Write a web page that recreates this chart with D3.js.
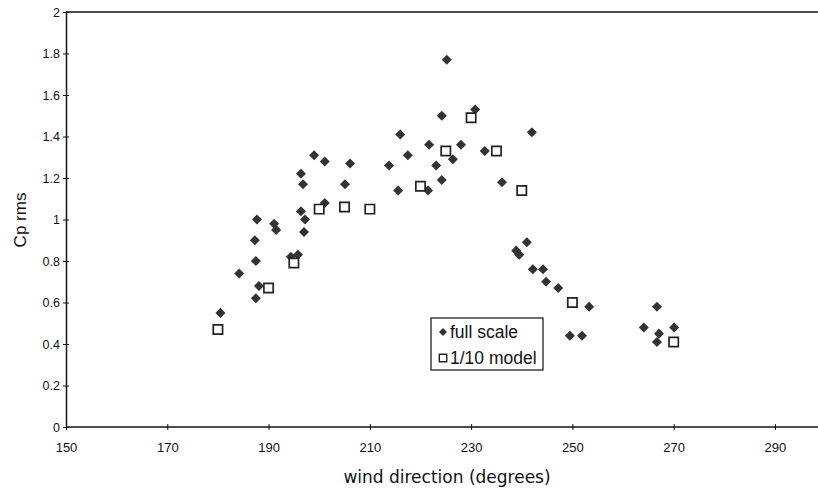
<!DOCTYPE html>
<html>
<head>
<meta charset="utf-8">
<script src="https://cdn.jsdelivr.net/npm/d3@7"></script>
<style>
  body { margin: 0; background: #fff; }
  svg { display: block; }
</style>
</head>
<body>
<script>
// full scale measurements (wind direction in degrees, Cp rms)
const fullDir = [180.5, 184.2, 187.5, 187.5, 188.1, 187.3, 187.7, 191.1, 191.5, 194.4,
  195.8, 196.4, 196.8, 196.4, 197.2, 197.0, 199.0, 201.1, 201.1, 205.1,
  206.1, 213.8, 216.0, 217.5, 215.6, 225.2, 224.2, 230.8, 221.7, 228.0,
  223.1, 226.4, 224.2, 221.5, 232.7, 236.1, 242.0, 241.0, 238.9, 239.5,
  242.2, 244.2, 244.8, 247.2, 253.3, 249.5, 251.9, 266.7, 264.1, 267.1,
  266.7, 270.1];
const fullCp = [0.55, 0.74, 0.80, 0.62, 0.68, 0.90, 1.00, 0.98, 0.95, 0.82,
  0.83, 1.22, 1.17, 1.04, 1.00, 0.94, 1.31, 1.28, 1.08, 1.17,
  1.27, 1.26, 1.41, 1.31, 1.14, 1.77, 1.50, 1.53, 1.36, 1.36,
  1.26, 1.29, 1.19, 1.14, 1.33, 1.18, 1.42, 0.89, 0.85, 0.83,
  0.76, 0.76, 0.70, 0.67, 0.58, 0.44, 0.44, 0.58, 0.48, 0.45,
  0.41, 0.48];

// 1/10 model measurements
const modelDir = [180, 190, 195, 200, 205, 210, 220, 225, 230, 235, 240, 250, 270];
const modelCp = [0.47, 0.67, 0.79, 1.05, 1.06, 1.05, 1.16, 1.33, 1.49, 1.33, 1.14, 0.60, 0.41];

const xTicks = [150, 170, 190, 210, 230, 250, 270, 290];
const yTicks = [0, 0.2, 0.4, 0.6, 0.8, 1, 1.2, 1.4, 1.6, 1.8, 2];

const width = 818, height = 495;
const margin = { left: 66, top: 12, bottom: 68 };

const svg = d3.select("body").append("svg")
  .attr("width", width)
  .attr("height", height);

const x = d3.scaleLinear([150, 300], [margin.left, margin.left + 150 * 5.064]);
const y = d3.scaleLinear([0, 2], [height - margin.bottom, margin.top]);

const ink = "#111";

// top frame line
svg.append("line")
  .attr("x1", x(150)).attr("x2", width)
  .attr("y1", y(2)).attr("y2", y(2))
  .attr("stroke", ink).attr("stroke-width", 1.5);

// x axis
const xAxis = svg.append("g")
  .attr("transform", `translate(0,${y(0)})`)
  .call(d3.axisBottom(x).tickValues(xTicks).tickFormat(d3.format("d")).tickSizeOuter(0));
xAxis.select(".domain").attr("stroke", ink).attr("stroke-width", 1.5)
  .attr("d", `M${x(150)},0H${width}`);
xAxis.selectAll(".tick line").attr("y1", -3).attr("y2", 3).attr("stroke", ink);
xAxis.selectAll(".tick text")
  .attr("y", 25).attr("dy", 0)
  .attr("fill", ink)
  .style("font", "13px 'Liberation Sans', Arial, sans-serif");

// y axis
const yAxis = svg.append("g")
  .attr("transform", `translate(${x(150)},0)`)
  .call(d3.axisLeft(y).tickValues(yTicks).tickFormat(d => d3.format("")(+d.toFixed(1))).tickSizeOuter(0));
yAxis.select(".domain").attr("stroke", ink).attr("stroke-width", 1.5);
yAxis.selectAll(".tick line").attr("x1", -3).attr("x2", 3).attr("stroke", ink);
yAxis.selectAll(".tick text")
  .attr("x", -6)
  .attr("fill", ink)
  .style("font", "12.5px 'Liberation Sans', Arial, sans-serif");

// axis titles
svg.append("text")
  .attr("x", 447).attr("y", 483)
  .attr("text-anchor", "middle")
  .attr("fill", ink)
  .style("font", "17px 'DejaVu Sans', sans-serif")
  .text("wind direction (degrees)");

svg.append("text")
  .attr("transform", `translate(26,220) rotate(-90)`)
  .attr("text-anchor", "middle")
  .attr("fill", ink)
  .style("font", "17px 'Liberation Sans', Arial, sans-serif")
  .text("Cp rms");

// markers
const diamond = d3.symbol().type(d3.symbolDiamond2).size(64);
const square = d3.symbol().type(d3.symbolSquare2).size(110);

svg.append("g").selectAll("path")
  .data(fullDir.map((d, i) => [d, fullCp[i]]))
  .join("path")
  .attr("transform", d => `translate(${x(d[0])},${y(d[1])})`)
  .attr("d", diamond)
  .attr("fill", "#333");

svg.append("g").selectAll("path")
  .data(modelDir.map((d, i) => [d, modelCp[i]]))
  .join("path")
  .attr("transform", d => `translate(${x(d[0])},${y(d[1])})`)
  .attr("d", square)
  .attr("fill", "#fff")
  .attr("stroke", "#222")
  .attr("stroke-width", 1.7);

// legend
const legend = svg.append("g").attr("transform", "translate(431,318)");
legend.append("rect")
  .attr("width", 112).attr("height", 52)
  .attr("fill", "#fff").attr("stroke", ink).attr("stroke-width", 1.2);
legend.append("path")
  .attr("transform", "translate(12,14)")
  .attr("d", d3.symbol().type(d3.symbolDiamond2).size(40))
  .attr("fill", "#333");
legend.append("path")
  .attr("transform", "translate(12,40)")
  .attr("d", d3.symbol().type(d3.symbolSquare2).size(70))
  .attr("fill", "#fff").attr("stroke", "#222").attr("stroke-width", 1.4);
legend.selectAll("text")
  .data(["full scale", "1/10 model"])
  .join("text")
  .attr("x", 19)
  .attr("y", (d, i) => 20 + i * 26)
  .attr("fill", ink)
  .style("font", "17.5px 'Liberation Sans', Arial, sans-serif")
  .text(d => d);
</script>
</body>
</html>
